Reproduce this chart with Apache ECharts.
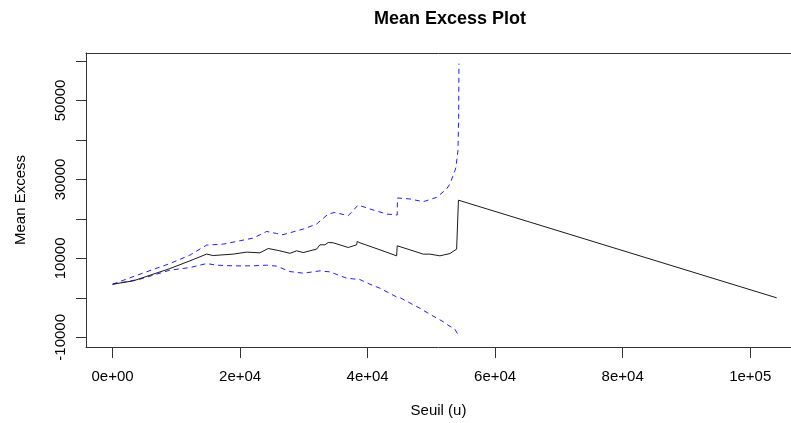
<!DOCTYPE html>
<html>
<head>
<meta charset="utf-8">
<script src="https://cdn.jsdelivr.net/npm/echarts@6/dist/echarts.min.js"></script>
<style>
  html, body { margin: 0; padding: 0; background: #fff; }
  #chart { width: 791px; height: 423px; }
</style>
</head>
<body>
<div id="chart"></div>
<script>
// Mean excess function e(u) against threshold u, with its confidence band
const meanExcessU = [0, 3231, 8988, 12125, 14745, 15780, 18918, 21020, 23106, 24408, 26243, 27812,
  28863, 29898, 32000, 32518, 33302, 33820, 34604, 36957, 38275, 38369, 38792, 41929, 44549,
  44643, 46635, 48722, 49773, 51341, 52910, 53961, 54055, 54243, 104157];
const meanExcessV = [3454, 4293, 7417, 9373, 11074, 10719, 11074, 11582, 11405, 12497, 11913, 11278,
  11913, 11481, 12344, 13437, 13437, 14021, 13945, 12751, 13437, 14275, 13945, 12167, 10643,
  13183, 12167, 11074, 11074, 10643, 11227, 12344, 12497, 24740, 0];

// Upper confidence limit
const upperU = [0, 4282, 8988, 12125, 14745, 17349, 19969, 22055, 24157, 25725, 26714, 29898,
  32000, 33820, 34871, 36957, 38525, 40361, 42980, 44643, 44675, 46635, 48722, 50824, 52392,
  52910, 53694, 53851, 54165, 54275, 54322];
const upperV = [3454, 5994, 8687, 10820, 13360, 13614, 14453, 15138, 16815, 16307, 16002, 17424,
  18694, 21234, 21641, 20803, 23520, 22504, 21234, 20980, 25298, 25044, 24358, 25451, 27584,
  28854, 32232, 33071, 37313, 45771, 59335];

// Lower confidence limit
const lowerU = [0, 4282, 8988, 12125, 14745, 16314, 18918, 22055, 24157, 25725, 27812, 29898,
  32518, 34086, 36706, 38792, 40361, 41929, 44549, 45067, 48205, 49773, 51859, 52392, 53694,
  54212, 54275];
const lowerV = [3454, 4724, 7010, 7671, 8687, 8280, 8103, 8103, 8280, 8026, 6655, 6248,
  6833, 6579, 4978, 4623, 3454, 2438, 229, 51, -2642, -4166, -6045, -6706, -7976,
  -9423, -9677];

// Axis ticks and their printed labels
const xTicks = [0, 20000, 40000, 60000, 80000, 100000];
const xTickLabels = ['0e+00', '2e+04', '4e+04', '6e+04', '8e+04', '1e+05'];
const yTicks = [-10000, 0, 10000, 20000, 30000, 40000, 50000, 60000];
const yLabelled = [-10000, 10000, 30000, 50000];

const pairs = (xs, ys) => xs.map((x, i) => [x, ys[i]]);
const FONT = '"Liberation Sans", Arial, Helvetica, sans-serif';
const X_MIN = -4168, X_MAX = 106400;
const Y_MIN = -12450, Y_MAX = 62020;
const frame = { show: true, onZero: false, lineStyle: { color: '#333', width: 1 } };

const chart = echarts.init(document.getElementById('chart'), null, { renderer: 'canvas' });
chart.setOption({
  animation: false,
  backgroundColor: '#ffffff',
  title: {
    text: 'Mean Excess Plot',
    left: 445,
    top: 5,
    textAlign: 'center',
    textStyle: { fontFamily: FONT, fontSize: 18, fontWeight: 'bold', color: '#000' }
  },
  grid: { left: 86, top: 53, right: 0, bottom: 76, show: false },
  xAxis: [
    {
      type: 'value',
      min: X_MIN, max: X_MAX,
      name: 'Seuil (u)',
      nameLocation: 'middle',
      nameGap: 56,
      nameTextStyle: { fontFamily: FONT, fontSize: 15, color: '#000' },
      axisLine: frame,
      splitLine: { show: false },
      axisTick: { show: true, inside: false, length: 11, customValues: xTicks,
        lineStyle: { color: '#333', width: 1 } },
      axisLabel: {
        customValues: xTicks,
        margin: 22,
        fontFamily: FONT, fontSize: 15, color: '#000',
        formatter: v => xTickLabels[xTicks.indexOf(v)] ?? ''
      }
    },
    {
      // top edge of the plot box
      type: 'value',
      position: 'top',
      min: X_MIN, max: X_MAX,
      axisLine: frame,
      axisTick: { show: false },
      axisLabel: { show: false },
      splitLine: { show: false }
    }
  ],
  yAxis: {
    type: 'value',
    min: Y_MIN, max: Y_MAX,
    name: 'Mean Excess',
    nameLocation: 'middle',
    nameRotate: 90,
    nameGap: 58,
    nameTextStyle: { fontFamily: FONT, fontSize: 15, color: '#000' },
    axisLine: frame,
    splitLine: { show: false },
    axisTick: { show: true, inside: false, length: 10, customValues: yTicks,
      lineStyle: { color: '#333', width: 1 } },
    axisLabel: {
      customValues: yLabelled,
      rotate: 90,
      margin: 18,
      fontFamily: FONT, fontSize: 15, color: '#000',
      formatter: v => String(v)
    }
  },
  series: [
    {
      name: 'Mean Excess',
      type: 'line',
      data: pairs(meanExcessU, meanExcessV),
      showSymbol: false,
      lineStyle: { color: '#1a1a1a', width: 1 },
      z: 3
    },
    {
      name: 'Upper',
      type: 'line',
      data: pairs(upperU, upperV),
      showSymbol: false,
      lineStyle: { color: '#1f1fff', width: 1, type: [5, 4] },
      z: 2
    },
    {
      name: 'Lower',
      type: 'line',
      data: pairs(lowerU, lowerV),
      showSymbol: false,
      lineStyle: { color: '#1f1fff', width: 1, type: [5, 4] },
      z: 2
    }
  ]
});
</script>
</body>
</html>
